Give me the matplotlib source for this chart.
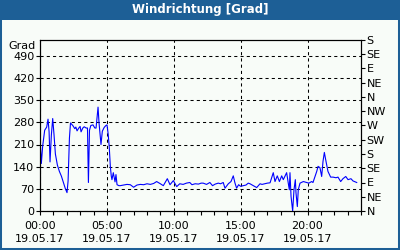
import matplotlib
matplotlib.use("Agg")
import matplotlib.pyplot as plt
from matplotlib.patches import Rectangle

# wind direction over the day, hours since 00:00 and degrees
hours = [0.0, 0.1, 0.2, 0.35, 0.5, 0.6, 0.68, 0.75, 0.85, 0.95, 1.05, 1.15, 1.3, 1.45, 1.6,
         1.75, 1.9, 2.02, 2.1, 2.2, 2.28, 2.45, 2.6, 2.68, 2.77, 2.9, 3.0, 3.07, 3.2, 3.3,
         3.45, 3.55, 3.62, 3.7, 3.8, 3.96, 4.1, 4.19, 4.34, 4.41, 4.56, 4.66, 4.8, 4.93, 5.01,
         5.1, 5.18, 5.26, 5.33, 5.38, 5.48, 5.61, 5.68, 5.76, 5.9, 6.0, 6.25, 6.5, 6.75, 7.0,
         7.25, 7.5, 7.75, 8.0, 8.25, 8.5, 8.72, 9.0, 9.22, 9.52, 9.72, 9.97, 10.22, 10.45, 10.7,
         10.95, 11.2, 11.36, 11.6, 11.85, 12.05, 12.2, 12.45, 12.7, 12.9, 13.1, 13.33, 13.5,
         13.7, 13.83, 14.08, 14.28, 14.45, 14.58, 14.7, 14.85, 15.0, 15.2, 15.4, 15.57, 15.7,
         15.95, 16.2, 16.45, 16.6, 16.8, 17.0, 17.2, 17.44, 17.57, 17.74, 17.9, 18.07, 18.19,
         18.44, 18.64, 18.69, 18.77, 18.89, 18.99, 19.09, 19.14, 19.24, 19.31, 19.44, 19.69,
         19.94, 20.1, 20.31, 20.41, 20.69, 20.79, 20.93, 21.06, 21.16, 21.26, 21.36, 21.53,
         21.73, 21.91, 22.13, 22.28, 22.48, 22.65, 22.86, 23.03, 23.25, 23.4, 23.68]
grad = [233, 150, 205, 255, 265, 290, 250, 155, 240, 292, 240, 180, 145, 125, 110,
        90, 70, 58, 95, 230, 278, 270, 260, 265, 253, 262, 267, 250, 262, 266,
        262, 262, 90, 255, 270, 272, 262, 262, 328, 280, 210, 252, 264, 270, 272,
        242, 200, 140, 110, 99, 121, 92, 115, 83, 80, 80, 82, 84, 83, 75,
        82, 84, 83, 86, 84, 87, 93, 86, 80, 102, 83, 96, 77, 86, 84,
        88, 90, 83, 86, 85, 88, 88, 84, 90, 80, 85, 88, 86,
        90, 72, 86, 93, 111, 88, 72, 83, 78, 80, 82, 88, 86,
        80, 74, 86, 84, 86, 88, 89, 121, 93, 111, 93, 111, 99,
        121, 67, 121, 46, 0, 67, 99, 57, 14, 67, 88, 93,
        90, 88, 93, 90, 125, 141, 137, 109, 157, 185, 162, 125,
        107, 107, 105, 107, 93, 102, 109, 99, 102, 95, 90]

left_ticks = [0, 70, 140, 210, 280, 350, 420, 490]
right_ticks = [0, 45, 90, 135, 180, 225, 270, 315, 360, 405, 450, 495, 540]
right_labels = ["N", "NE", "E", "SE", "S", "SW", "W", "NW", "N", "NE", "E", "SE", "S"]
x_major = [0, 5, 10, 15, 20]
x_labels = ["00:00\n19.05.17", "05:00\n19.05.17", "10:00\n19.05.17",
            "15:00\n19.05.17", "20:00\n19.05.17"]

bg = "#f8fcf8"
bar = "#1d5f96"
plt.rcParams["font.family"] = "DejaVu Sans"
plt.rcParams["font.size"] = 8

fig = plt.figure(figsize=(4, 2.5), dpi=100, facecolor=bg)

# title bar and frame
fig.patches.append(Rectangle((0, 1 - 20 / 250), 1, 20 / 250, transform=fig.transFigure,
                             facecolor=bar, edgecolor="none", zorder=0))
fig.patches.append(Rectangle((0, 0), 1, 1, transform=fig.transFigure, fill=False,
                             edgecolor=bar, linewidth=2.9, zorder=5))
fig.text(0.5, 1 - 10 / 250, "Windrichtung [Grad]", color="white", fontweight="bold",
         ha="center", va="center", fontsize=8.5)

ax = fig.add_axes([40 / 400, 1 - 211 / 250, 321 / 400, 171 / 250])
ax.set_facecolor(bg)
ax.plot(hours, grad, color="#0000ff", linewidth=0.8)
ax.set_xlim(0, 24)
ax.set_ylim(0, 540)
ax.set_yticks(left_ticks)
ax.set_xticks(x_major)
ax.set_xticklabels(x_labels, linespacing=1.4)
ax.set_xticks(range(0, 25), minor=True)
ax.tick_params(axis="x", which="both", direction="out", length=3, width=0.8, pad=4)
ax.tick_params(axis="y", direction="out", length=3, width=0.8, pad=1)
ax.grid(True, color="black", linestyle=(0, (3, 3)), linewidth=0.75)
for s in ax.spines.values():
    s.set_linewidth(0.8)

ax2 = ax.twinx()
ax2.set_ylim(0, 540)
ax2.set_yticks(right_ticks)
ax2.set_yticklabels(right_labels)
ax2.tick_params(axis="y", direction="out", length=3, width=0.8, pad=1)

fig.text(36 / 400, 1 - 46 / 250, "Grad", ha="right", va="center", fontsize=8)

fig.savefig("out.png", dpi=100, facecolor=bg)
